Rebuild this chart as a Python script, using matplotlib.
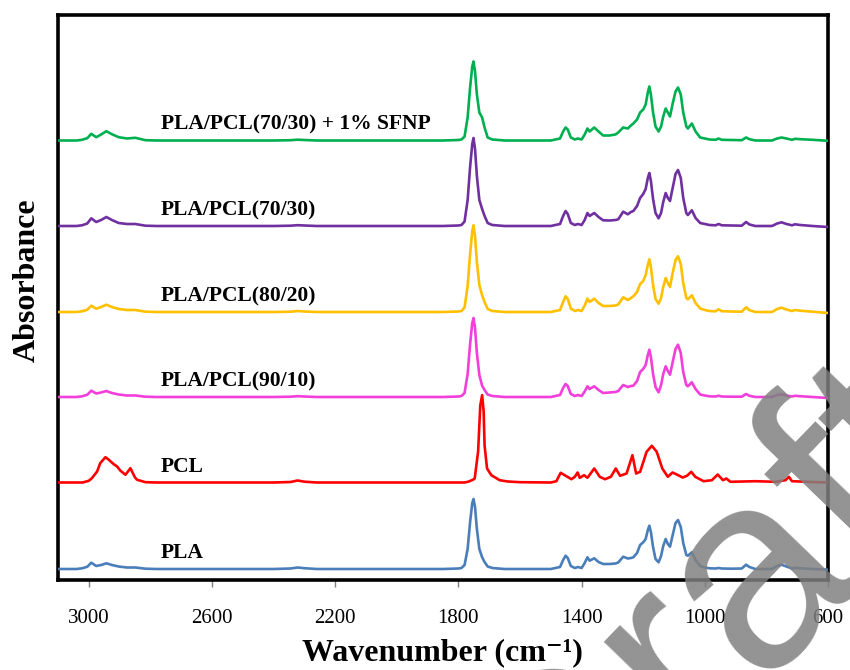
import matplotlib
matplotlib.use("Agg")
import matplotlib.pyplot as plt

# ---------------- data ----------------
wn_pla = [3100, 3040, 3022, 3005, 2992, 2976, 2960, 2943, 2925, 2903, 2876, 2849, 2816, 2780,
          2600, 2400, 2345, 2322, 2300, 2260, 2000, 1850,
          1800, 1790, 1780, 1770, 1762, 1755, 1751, 1746, 1740, 1732, 1723, 1715, 1705, 1690, 1650,
          1500, 1470, 1460, 1452, 1445, 1435, 1422, 1412, 1400, 1390, 1381, 1374, 1359, 1345, 1330, 1310, 1290, 1281,
          1265, 1250, 1240, 1232, 1220, 1210, 1200, 1192, 1185, 1180, 1175, 1168, 1160, 1150, 1142, 1135, 1127, 1120,
          1113, 1105, 1095, 1087,
          1078, 1070, 1060, 1055, 1042, 1030, 1015, 1000, 985, 965, 955, 945, 912, 880, 866, 855, 836, 782, 765, 751,
          735, 717, 707, 690, 650, 600]

green_sfnp = [0, 0, 0.007, 0.023, 0.067, 0.033, 0.06, 0.093, 0.063, 0.033, 0.02, 0.027, 0.003, 0,
              0, 0, 0.003, 0.008, 0.005, 0, 0, 0,
              0.005, 0.01, 0.04, 0.23, 0.53, 0.74, 0.79, 0.69, 0.46, 0.28, 0.23, 0.13, 0.03, 0.01, 0,
              0, 0.02, 0.09, 0.13, 0.11, 0.03, 0.01, 0.02, 0.01, 0.06, 0.12, 0.09, 0.13, 0.09, 0.05, 0.05, 0.06, 0.08,
              0.13, 0.12, 0.15, 0.17, 0.21, 0.28, 0.31, 0.36, 0.48, 0.54, 0.46, 0.28, 0.14, 0.09, 0.14, 0.24, 0.32, 0.28,
              0.24, 0.36, 0.49, 0.53,
              0.46, 0.28, 0.14, 0.12, 0.17, 0.09, 0.03, 0.02, 0.01, 0.007, 0.02, 0.007, 0.005, 0.003, 0.03, 0.013, 0, 0,
              0.02, 0.03, 0.02, 0.007, 0.017, 0.013, 0.007, -0.003]

purple_7030 = [0, 0, 0.007, 0.025, 0.077, 0.04, 0.06, 0.09, 0.06, 0.03, 0.02, 0.02, 0.003, 0,
               0, 0, 0.003, 0.008, 0.005, 0, 0, 0,
               0.005, 0.01, 0.045, 0.26, 0.59, 0.82, 0.88, 0.77, 0.5, 0.26, 0.17, 0.1, 0.03, 0.01, 0,
               0, 0.02, 0.1, 0.15, 0.12, 0.03, 0.01, 0.02, 0.01, 0.06, 0.13, 0.1, 0.13, 0.09, 0.057, 0.055, 0.06, 0.067,
               0.143, 0.117, 0.14, 0.15, 0.2, 0.28, 0.32, 0.37, 0.48, 0.53, 0.45, 0.27, 0.13, 0.077, 0.13, 0.24, 0.33, 0.28,
               0.25, 0.37, 0.52, 0.56,
               0.48, 0.28, 0.13, 0.11, 0.157, 0.08, 0.03, 0.02, 0.01, 0.007, 0.02, 0.007, 0.005, 0.003, 0.04, 0.015, 0, 0,
               0.025, 0.037, 0.02, 0.007, 0.017, 0.01, 0.0, -0.01]

yellow_8020 = [0, 0, 0.007, 0.022, 0.063, 0.033, 0.05, 0.073, 0.05, 0.03, 0.02, 0.02, 0.003, 0,
               0, 0, 0.003, 0.01, 0.005, 0, 0, 0,
               0.005, 0.01, 0.045, 0.26, 0.58, 0.81, 0.867, 0.76, 0.5, 0.27, 0.167, 0.1, 0.03, 0.01, 0,
               0, 0.02, 0.1, 0.157, 0.13, 0.035, 0.01, 0.02, 0.01, 0.065, 0.133, 0.1, 0.133, 0.09, 0.06, 0.06, 0.065, 0.075,
               0.147, 0.12, 0.14, 0.157, 0.2, 0.28, 0.31, 0.37, 0.47, 0.527, 0.45, 0.27, 0.13, 0.083, 0.14, 0.25, 0.34, 0.29,
               0.25, 0.38, 0.52, 0.557,
               0.48, 0.29, 0.14, 0.127, 0.167, 0.09, 0.035, 0.02, 0.01, 0.007, 0.027, 0.008, 0.005, 0.003, 0.047, 0.018, 0, 0,
               0.03, 0.043, 0.025, 0.01, 0.02, 0.013, 0.003, -0.01]

magenta_9010 = [0, 0, 0.007, 0.022, 0.063, 0.035, 0.045, 0.06, 0.04, 0.025, 0.015, 0.015, 0.003, 0,
                0, 0, 0.003, 0.008, 0.005, 0, 0, 0,
                0.005, 0.01, 0.04, 0.23, 0.53, 0.74, 0.79, 0.69, 0.44, 0.22, 0.113, 0.07, 0.025, 0.01, 0,
                0, 0.02, 0.09, 0.13, 0.11, 0.03, 0.01, 0.02, 0.01, 0.055, 0.107, 0.08, 0.107, 0.07, 0.04, 0.045, 0.05, 0.06,
                0.12, 0.1, 0.11, 0.113, 0.16, 0.25, 0.28, 0.32, 0.42, 0.473, 0.4, 0.23, 0.1, 0.047, 0.12, 0.23, 0.307, 0.26,
                0.223, 0.34, 0.48, 0.523,
                0.44, 0.25, 0.12, 0.107, 0.147, 0.08, 0.025, 0.015, 0.007, 0.005, 0.013, 0.005, 0.003, 0.003, 0.03, 0.012, 0, 0,
                0.02, 0.027, 0.015, 0.005, 0.012, 0.008, 0.0, -0.01]

blue_pla = [0, 0, 0.007, 0.022, 0.063, 0.03, 0.04, 0.057, 0.04, 0.025, 0.015, 0.015, 0.003, 0,
            0, 0, 0.005, 0.015, 0.008, 0, 0, 0,
            0.005, 0.01, 0.04, 0.2, 0.47, 0.66, 0.70, 0.62, 0.4, 0.2, 0.117, 0.07, 0.025, 0.01, 0,
            0, 0.02, 0.09, 0.133, 0.11, 0.03, 0.01, 0.02, 0.01, 0.06, 0.117, 0.083, 0.107, 0.07, 0.05, 0.05, 0.055, 0.065,
            0.123, 0.105, 0.11, 0.117, 0.16, 0.24, 0.267, 0.3, 0.39, 0.433, 0.37, 0.22, 0.1, 0.067, 0.13, 0.23, 0.3, 0.25,
            0.223, 0.33, 0.46, 0.49,
            0.42, 0.26, 0.14, 0.133, 0.167, 0.09, 0.03, 0.015, 0.007, 0.005, 0.01, 0.005, 0.003, 0.005, 0.043, 0.02, 0, 0,
            0.03, 0.043, 0.025, 0.005, 0.012, 0.008, 0.0, -0.007]

wn_pcl = [3100, 3020, 3000, 2990, 2973, 2963, 2946, 2935, 2919, 2908,
          2898, 2881, 2865, 2850, 2843, 2816, 2780, 2600, 2400, 2345,
          2322, 2300, 2260, 2000, 1850, 1780, 1769, 1753, 1747, 1736,
          1729, 1723, 1718, 1715, 1707, 1693, 1666, 1640, 1600, 1500,
          1482, 1468, 1455, 1433, 1422, 1413, 1406, 1392, 1381, 1359,
          1341, 1324, 1305, 1289, 1275, 1254, 1235, 1223, 1210, 1189,
          1172, 1156, 1138, 1120, 1105, 1091, 1072, 1058, 1044, 1031,
          1004, 977, 958, 941, 930, 917, 836, 771, 738, 727,
          717, 650, 600]

red_pcl = [0, 0, 0.017, 0.043, 0.11, 0.193, 0.253, 0.227, 0.183, 0.16,
           0.12, 0.077, 0.143, 0.05, 0.027, 0.003, 0, 0, 0, 0.005,
           0.02, 0.008, 0, 0, 0, 0, 0.007, 0.027, 0.04, 0.31,
           0.77, 0.873, 0.71, 0.37, 0.14, 0.073, 0.023, 0.01, 0.003, 0,
           0.013, 0.097, 0.073, 0.033, 0.057, 0.1, 0.047, 0.073, 0.047, 0.14,
           0.057, 0.033, 0.057, 0.14, 0.067, 0.09, 0.273, 0.09, 0.107, 0.307,
           0.367, 0.307, 0.14, 0.057, 0.1, 0.08, 0.05, 0.067, 0.107, 0.057,
           0.013, 0.023, 0.08, 0.023, 0.04, 0.007, 0.013, 0.007, 0.023, 0.057,
           0.013, 0.005, 0]

labels = ["PLA", "PCL", "PLA/PCL(90/10)", "PLA/PCL(80/20)", "PLA/PCL(70/30)",
          "PLA/PCL(70/30) + 1% SFNP"]
offsets = [0.0, 0.865, 1.72, 2.57, 3.43, 4.285]
x_ticks = [3000, 2600, 2200, 1800, 1400, 1000, 600]

series = [(wn_pla, blue_pla, "#4A7EBB"),
          (wn_pcl, red_pcl, "#FF0000"),
          (wn_pla, magenta_9010, "#F23FDB"),
          (wn_pla, yellow_8020, "#FFC000"),
          (wn_pla, purple_7030, "#7030A0"),
          (wn_pla, green_sfnp, "#00B050")]

# ---------------- figure ----------------
W, H = 850, 670
fig = plt.figure(figsize=(W / 100, H / 100), dpi=100)
ax = fig.add_axes([58 / W, 1 - 580 / H, (828 - 58) / W, (580 - 15) / H])

for (xs, ys, col), off, lab in zip(series, offsets, labels):
    ax.plot(xs, [v + off for v in ys], color=col, lw=1.9,
            solid_joinstyle="round", solid_capstyle="round", zorder=3)
    ax.text(2767, off + 0.16, lab, family="Liberation Serif", fontweight="bold",
            fontsize=15.5, va="center", ha="left", zorder=4)

ax.set_xlim(3100, 600)
ax.set_ylim(-0.11, 5.54)
ax.set_xticks(x_ticks)
ax.set_xticklabels([str(t) for t in x_ticks], family="Liberation Serif", fontsize=15)
ax.set_yticks([])
ax.tick_params(axis="x", direction="out", length=5, width=1, color="#808080", pad=16)
for s in ax.spines.values():
    s.set_linewidth(2.6)
    s.set_color("black")

fig.text(442 / W, 1 - 653 / H, "Wavenumber (cm\u207b\u00b9)",
         family=["Liberation Serif", "DejaVu Serif"],
         fontweight="bold", fontsize=23, ha="center", va="center")
fig.text(27 / W, 1 - 280 / H, "Absorbance", family="Liberation Serif", fontweight="bold",
         fontsize=23, rotation=90, ha="center", va="center")

# watermark overlay
fig.text(708 / W, 1 - 618 / H, "Draft", family="Liberation Sans", fontsize=200,
         color="#808080", alpha=0.85, rotation=46, ha="center", va="center", zorder=10)

fig.savefig("out.png", dpi=100)
